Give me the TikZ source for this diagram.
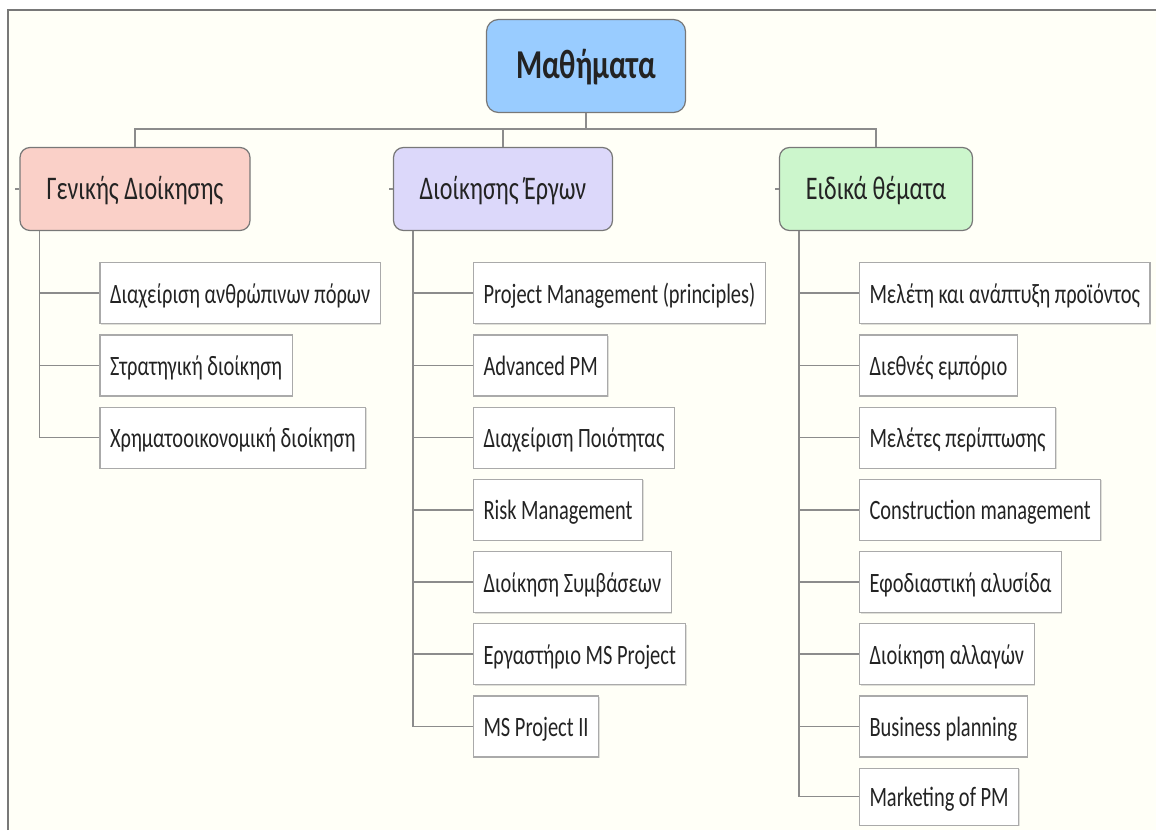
\documentclass[tikz,border=0pt]{standalone}
\usepackage{fontspec}
\setmainfont[FakeStretch=0.73]{Carlito}
\usepackage{xcolor}
\usepackage{tikz}
\usetikzlibrary{positioning, calc, shadows}
\definecolor{rootblue}{RGB}{153,204,255}
\definecolor{genpink}{RGB}{250,208,200}
\definecolor{projlilac}{RGB}{220,216,250}
\definecolor{specgreen}{RGB}{204,246,204}
\definecolor{paper}{RGB}{255,255,247}
\definecolor{linegray}{RGB}{140,140,140}
\definecolor{edgegray}{RGB}{120,120,120}
\definecolor{boxgray}{RGB}{170,170,170}
\definecolor{inkgray}{RGB}{35,35,35}
\tikzset{
  root/.style={rectangle, draw=edgegray, fill=rootblue, line width=1.2pt, rounded corners=12pt,
    minimum width=199pt, minimum height=93pt, text height=34pt, text depth=10pt,
    font=\fontsize{41}{48}\selectfont\bfseries, text=inkgray},
  hdr/.style={rectangle, draw=edgegray, line width=1.2pt, rounded corners=10pt,
    minimum height=83pt, text height=28pt, text depth=8pt,
    font=\fontsize{33}{40}\selectfont, text=inkgray},
  item/.style={rectangle, draw=boxgray, fill=white, line width=1.2pt,
    minimum height=61pt, inner xsep=10pt, text height=23pt, text depth=3pt,
    font=\fontsize{28}{34}\selectfont, text=inkgray,
    drop shadow={shadow xshift=1pt, shadow yshift=-1pt, opacity=0.25}},
  link/.style={draw=linegray, line width=1.5pt},
  frame/.style={draw=edgegray, line width=1.5pt}
}

\begin{document}
\begin{tikzpicture}
  \useasboundingbox (0,0) rectangle (1156pt,-830pt);
  \fill[white] (0,0) rectangle (1156pt,-830pt);
  \fill[paper] (8pt,-10pt) rectangle (1156pt,-830pt);
  \draw[frame] (8pt,-830pt) -- (8pt,-10pt) -- (1156pt,-10pt);

  % top level
  \node[root] (root) at (586pt,-66pt) {Μαθήματα};
  \node[hdr, fill=genpink, minimum width=230pt] (gen) at (135pt,-189pt) {Γενικής Διοίκησης};
  \node[hdr, fill=projlilac, minimum width=219pt] (proj) at (503pt,-189pt) {Διοίκησης Έργων};
  \node[hdr, fill=specgreen, minimum width=193pt] (spec) at (876pt,-189pt) {Ειδικά θέματα};

  % Γενικής Διοίκησης
  \node[item, below right=31pt and 80pt of gen.south west] (g1) {Διαχείριση ανθρώπινων πόρων};
  \node[item, below right=10pt and 0pt of g1.south west] (g2) {Στρατηγική διοίκηση};
  \node[item, below right=10pt and 0pt of g2.south west] (g3) {Χρηματοοικονομική διοίκηση};

  % Διοίκησης Έργων
  \node[item, below right=31pt and 80pt of proj.south west] (p1) {Project Management (principles)};
  \node[item, below right=10pt and 0pt of p1.south west] (p2) {Advanced PM};
  \node[item, below right=10pt and 0pt of p2.south west] (p3) {Διαχείριση Ποιότητας};
  \node[item, below right=10pt and 0pt of p3.south west] (p4) {Risk Management};
  \node[item, below right=10pt and 0pt of p4.south west] (p5) {Διοίκηση Συμβάσεων};
  \node[item, below right=10pt and 0pt of p5.south west] (p6) {Εργαστήριο MS Project};
  \node[item, below right=10pt and 0pt of p6.south west] (p7) {MS Project II};

  % Ειδικά θέματα
  \node[item, below right=31pt and 80pt of spec.south west] (s1) {Μελέτη και ανάπτυξη προϊόντος};
  \node[item, below right=10pt and 0pt of s1.south west] (s2) {Διεθνές εμπόριο};
  \node[item, below right=10pt and 0pt of s2.south west] (s3) {Μελέτες περίπτωσης};
  \node[item, below right=10pt and 0pt of s3.south west] (s4) {Construction management};
  \node[item, below right=10pt and 0pt of s4.south west] (s5) {Εφοδιαστική αλυσίδα};
  \node[item, below right=10pt and 0pt of s5.south west] (s6) {Διοίκηση αλλαγών};
  \node[item, below right=10pt and 0pt of s6.south west] (s7) {Business planning};
  \node[item, minimum height=57pt, below right=10pt and 0pt of s7.south west] (s8) {Marketing of PM};

  % bus from the root
  \coordinate (bus) at ($(root.south)+(0,-16pt)$);
  \draw[link] (root.south) -- (bus);
  \draw[link] (gen.north) |- (bus) -| (spec.north);
  \draw[link] (proj.north) -- (proj.north |- bus);
  \draw[link] (gen.west) -- ++(-4pt,0);
  \draw[link] (proj.west) -- ++(-4pt,0);
  \draw[link] (spec.west) -- ++(-4pt,0);

  % spines
  \coordinate (gsp) at ($(gen.south west)+(20pt,0)$);
  \coordinate (psp) at ($(proj.south west)+(20pt,0)$);
  \coordinate (ssp) at ($(spec.south west)+(20pt,0)$);
  \draw[link] (gsp) |- (g3.west);
  \draw[link] (psp) |- (p7.west);
  \draw[link] (ssp) |- (s8.west);
  \foreach \n in {g1,g2} \draw[link] (gsp |- \n.west) -- (\n.west);
  \foreach \n in {p1,p2,p3,p4,p5,p6} \draw[link] (psp |- \n.west) -- (\n.west);
  \foreach \n in {s1,s2,s3,s4,s5,s6,s7} \draw[link] (ssp |- \n.west) -- (\n.west);
\end{tikzpicture}
\end{document}
